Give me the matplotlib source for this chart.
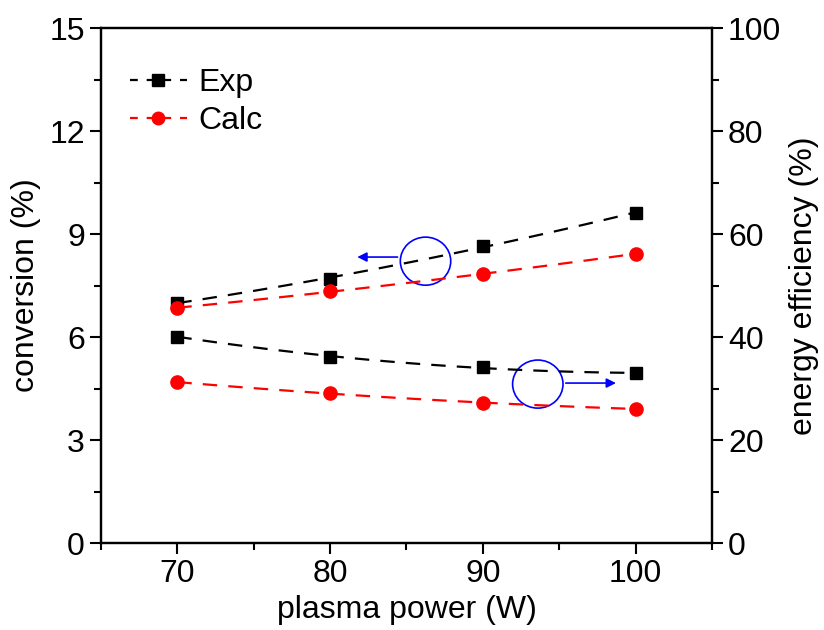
import matplotlib
matplotlib.use("Agg")
import matplotlib.pyplot as plt
from matplotlib.patches import Ellipse
from matplotlib.ticker import MultipleLocator
import numpy as np

plt.rcParams['font.family'] = ['Liberation Sans', 'DejaVu Sans']

# data
power = [70, 80, 90, 100]
conv_exp = [7.0, 7.7, 8.65, 9.62]
conv_calc = [6.85, 7.33, 7.83, 8.43]
eff_exp = [40.1, 36.2, 34.1, 33.0]
eff_calc = [31.2, 29.2, 27.1, 26.1]


def smooth(x, y, n=60):
    # quadratic fit through the points for the curved dashed lines
    c = np.polyfit(x, y, 2)
    xs = np.linspace(x[0], x[-1], n)
    return xs, np.polyval(c, xs)


fig = plt.figure(figsize=(8.24, 6.3), dpi=100)
ax = fig.add_axes([0.1225, 0.138, 0.7415, 0.8175])
ax2 = ax.twinx()

fs = 23
dsh = (6.5, 5)
for a in (ax, ax2):
    a.tick_params(which='major', direction='out', length=8, width=1.5, labelsize=fs)
    a.tick_params(which='minor', direction='out', length=5, width=1.5)
    for s in a.spines.values():
        s.set_linewidth(1.6)

# conversion on left axis
xs, ys = smooth(power, conv_exp)
ax.plot(xs, ys, '--', color='black', lw=1.6, dashes=dsh)
ax.plot(power, conv_exp, 's', color='black', ms=8.5)
xs, ys = smooth(power, conv_calc)
ax.plot(xs, ys, '--', color='red', lw=1.6, dashes=dsh)
ax.plot(power, conv_calc, 'o', color='red', ms=9.5)

# energy efficiency on right axis
xs, ys = smooth(power, eff_exp)
ax2.plot(xs, ys, '--', color='black', lw=1.6, dashes=dsh)
ax2.plot(power, eff_exp, 's', color='black', ms=8.5)
xs, ys = smooth(power, eff_calc)
ax2.plot(xs, ys, '--', color='red', lw=1.6, dashes=dsh)
ax2.plot(power, eff_calc, 'o', color='red', ms=9.5)

# legend proxies
ax.plot([], [], '--s', color='black', ms=8, lw=1.6, dashes=(3.5, 4), label='Exp')
ax.plot([], [], '--o', color='red', ms=9, lw=1.6, dashes=(3.5, 4), label='Calc')
ax.legend(loc='upper left', bbox_to_anchor=(0.0, 0.978), frameon=False,
          fontsize=fs, handlelength=1.8, handletextpad=0.35, labelspacing=0.25)

ax.set_xlim(65, 105)
ax.set_ylim(0, 15)
ax2.set_ylim(0, 100)
ax.xaxis.set_major_locator(MultipleLocator(10))
ax.xaxis.set_minor_locator(MultipleLocator(5))
ax.yaxis.set_major_locator(MultipleLocator(3))
ax.yaxis.set_minor_locator(MultipleLocator(1.5))
ax2.yaxis.set_major_locator(MultipleLocator(20))
ax2.yaxis.set_minor_locator(MultipleLocator(10))

ax.set_xlabel('plasma power (W)', fontsize=fs, labelpad=4)
ax.set_ylabel('conversion (%)', fontsize=fs, labelpad=6)
ax2.set_ylabel('energy efficiency (%)', fontsize=fs, labelpad=6)

# circles with arrows pointing to the axis
ax.add_patch(Ellipse((86.25, 8.21), 3.3, 1.4, fill=False, edgecolor='blue', lw=1.2))
ax.annotate('', xy=(81.6, 8.33), xytext=(84.6, 8.33),
            arrowprops=dict(arrowstyle='-|>', color='blue', lw=1.2, mutation_scale=14))
ax.add_patch(Ellipse((93.6, 4.63), 3.3, 1.4, fill=False, edgecolor='blue', lw=1.2))
ax.annotate('', xy=(98.9, 4.66), xytext=(95.25, 4.66),
            arrowprops=dict(arrowstyle='-|>', color='blue', lw=1.2, mutation_scale=14))

fig.savefig('out.png', dpi=100)
